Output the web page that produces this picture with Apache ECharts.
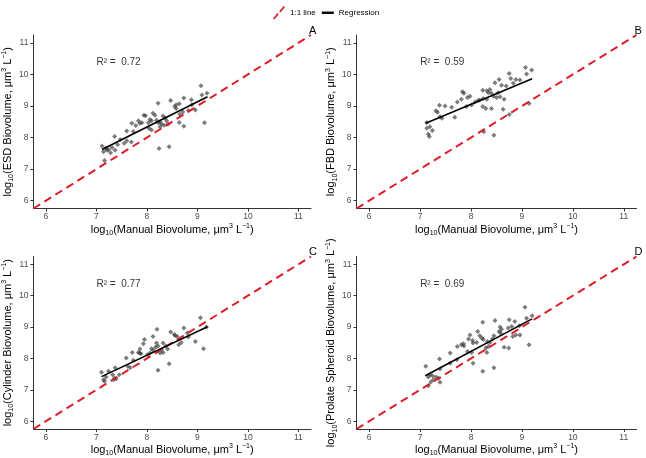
<!DOCTYPE html>
<html>
<head>
<meta charset="utf-8">
<script src="https://cdn.jsdelivr.net/npm/echarts@6/dist/echarts.min.js"></script>
<style>
  html, body { margin: 0; padding: 0; background: #fff; }
  #chart { width: 646px; height: 458px; }
</style>
</head>
<body>
<div id="chart"></div>
<script>
// ---- data (log10 biovolumes) ----
// A: ESD
const esdX = [7.11, 7.14, 7.16, 7.18, 7.21, 7.24, 7.28, 7.31, 7.37, 7.36, 7.42, 7.47, 7.55, 7.60, 7.60, 7.69,
  7.70, 7.73, 7.78, 7.83, 7.86, 7.90, 7.94, 7.97, 8.03, 8.04, 8.06, 8.09, 8.09, 8.12, 8.16, 8.19, 8.22, 8.22,
  8.24, 8.26, 8.26, 8.29, 8.32, 8.34, 8.36, 8.39, 8.42, 8.44, 8.47, 8.55, 8.58, 8.58, 8.64, 8.64, 8.65, 8.71,
  8.73, 8.73, 8.82, 8.88, 8.89, 8.96, 9.07, 9.09, 9.14, 9.19]
const esdY = [7.73, 7.55, 7.27, 7.66, 7.60, 7.62, 7.52, 7.68, 7.60, 8.03, 7.78, 7.94, 7.82, 7.90, 8.21, 7.86,
  8.45, 8.19, 8.38, 8.53, 8.45, 8.47, 8.71, 8.69, 8.47, 8.29, 8.57, 8.53, 8.24, 8.77, 8.71, 8.55, 8.47, 9.09,
  7.65, 8.50, 8.34, 8.43, 8.68, 8.39, 8.62, 8.53, 8.43, 7.71, 9.17, 8.98, 9.04, 8.92, 9.07, 8.48, 8.74, 8.81,
  9.25, 8.36, 8.86, 9.20, 9.04, 8.87, 9.64, 9.35, 8.47, 9.40]

// B: FBD
const fbdX = [7.13, 7.13, 7.16, 7.18, 7.19, 7.24, 7.31, 7.34, 7.38, 7.39, 7.43, 7.49, 7.62, 7.68, 7.73, 7.81,
  7.83, 7.86, 7.91, 7.93, 7.98, 8.01, 8.08, 8.14, 8.17, 8.23, 8.23, 8.24, 8.25, 8.29, 8.31, 8.31, 8.34, 8.37,
  8.40, 8.40, 8.44, 8.45, 8.47, 8.50, 8.53, 8.55, 8.57, 8.60, 8.63, 8.65, 8.69, 8.75, 8.75, 8.78, 8.83, 8.88,
  8.96, 9.07, 9.09, 9.14, 9.19]
const fbdY = [8.48, 8.29, 8.11, 8.03, 8.34, 8.22, 8.85, 8.80, 9.02, 8.66, 8.61, 9.00, 8.96, 8.64, 9.13, 9.21,
  9.45, 9.40, 8.98, 9.27, 9.31, 9.03, 9.13, 9.17, 9.19, 9.50, 8.98, 9.24, 8.18, 8.92, 9.48, 9.21, 9.42, 9.52,
  9.40, 8.92, 9.31, 8.07, 9.74, 9.27, 9.42, 9.84, 9.29, 9.66, 8.90, 9.21, 9.63, 10.03, 8.73, 9.87, 9.72, 9.84,
  9.82, 10.22, 10.01, 9.08, 10.14]

// C: Cylinder
const cylX = [7.10, 7.14, 7.16, 7.19, 7.24, 7.32, 7.34, 7.36, 7.37, 7.39, 7.45, 7.59, 7.62, 7.67, 7.71, 7.73,
  7.83, 7.86, 7.86, 7.88, 7.93, 7.95, 8.01, 8.06, 8.09, 8.12, 8.12, 8.17, 8.19, 8.20, 8.22, 8.22, 8.26, 8.29,
  8.32, 8.32, 8.37, 8.41, 8.44, 8.47, 8.54, 8.56, 8.60, 8.63, 8.68, 8.73, 8.80, 8.82, 8.96, 9.06, 9.12, 9.18]
const cylY = [7.56, 7.32, 7.27, 7.41, 7.59, 7.48, 7.32, 7.38, 7.70, 7.35, 7.48, 8.01, 7.75, 7.70, 8.19, 7.94,
  8.19, 8.17, 8.30, 8.15, 8.47, 8.60, 8.12, 8.17, 8.31, 8.70, 8.26, 8.36, 8.49, 8.93, 8.40, 7.62, 8.17, 8.28,
  8.49, 8.19, 8.40, 8.30, 7.83, 8.84, 8.76, 8.73, 8.70, 8.44, 8.51, 8.97, 8.81, 8.68, 8.54, 9.30, 8.31, 9.00]

// D: Prolate spheroid
const psX = [7.11, 7.16, 7.16, 7.19, 7.21, 7.24, 7.26, 7.31, 7.36, 7.38, 7.39, 7.39, 7.59, 7.59, 7.72, 7.73,
  7.81, 7.85, 7.86, 7.93, 7.95, 7.98, 8.01, 8.03, 8.04, 8.04, 8.11, 8.13, 8.17, 8.21, 8.23, 8.23, 8.24, 8.29,
  8.31, 8.32, 8.34, 8.37, 8.42, 8.45, 8.45, 8.47, 8.55, 8.57, 8.58, 8.60, 8.65, 8.73, 8.74, 8.75, 8.80, 8.82,
  8.86, 8.88, 8.95, 8.96, 9.06, 9.09, 9.14, 9.20]
const psY = [7.75, 7.41, 7.13, 7.48, 7.25, 7.45, 7.32, 7.41, 7.37, 7.98, 7.66, 7.24, 8.17, 7.85, 7.96, 8.38,
  8.44, 8.47, 8.40, 8.22, 8.62, 8.75, 8.19, 8.57, 8.49, 7.85, 8.51, 8.86, 8.72, 8.65, 9.15, 7.59, 8.60, 8.33,
  8.19, 8.54, 8.38, 8.51, 8.62, 8.72, 7.70, 9.21, 8.86, 9.00, 8.81, 8.93, 8.36, 8.97, 8.33, 9.23, 9.02, 8.70,
  9.18, 8.75, 9.04, 8.75, 9.63, 9.28, 8.44, 9.36]

// fitted regression lines (end points)
const esdFitX = [7.11, 9.20], esdFitY = [7.62, 9.29]
const fbdFitX = [7.11, 9.20], fbdFitY = [8.45, 9.86]
const cylFitX = [7.10, 9.20], cylFitY = [7.42, 9.01]
const psFitX = [7.10, 9.20], psFitY = [7.45, 9.26]

const rSquared = ['0.72', '0.59', '0.77', '0.69']
const panelLetters = ['A', 'B', 'C', 'D']
const yMethods = ['ESD', 'FBD', 'Cylinder', 'Prolate Spheroid']
const axisTicks = [6, 7, 8, 9, 10, 11]
const axisRange = [5.75, 11.25]
const labelPos = [7.0, 10.38]

const panels = [
  { x: esdX, y: esdY, fx: esdFitX, fy: esdFitY },
  { x: fbdX, y: fbdY, fx: fbdFitX, fy: fbdFitY },
  { x: cylX, y: cylY, fx: cylFitX, fy: cylFitY },
  { x: psX, y: psY, fx: psFitX, fy: psFitY }
]

// grid boxes in pixels
const boxes = [
  { left: 31, top: 35, width: 280, height: 173.5 },
  { left: 356.5, top: 35, width: 280, height: 173.5 },
  { left: 31, top: 256.5, width: 280, height: 173 },
  { left: 356.5, top: 256.5, width: 280, height: 173 }
]

const zip = (a, b) => a.map((v, i) => [v, b[i]])

const richSubSup = {
  sub: { fontSize: 7, lineHeight: 8, verticalAlign: 'bottom', color: '#000' },
  sup: { fontSize: 7, lineHeight: 8, verticalAlign: 'top', color: '#000' }
}
const xTitle = 'log{sub|10}(Manual Biovolume, μm{sup|3} L{sup|−1})'

const chart = echarts.init(document.getElementById('chart'))

const grid = boxes.map(b => ({ ...b, containLabel: false }))
const xAxis = boxes.map((b, i) => ({
  gridIndex: i,
  type: 'value',
  min: axisRange[0],
  max: axisRange[1],
  name: xTitle,
  nameLocation: 'middle',
  nameGap: 14,
  nameTextStyle: { fontSize: 11, color: '#000', lineHeight: 14, rich: richSubSup },
  axisLine: { show: true, onZero: false, lineStyle: { color: '#333', width: 1 } },
  axisTick: { show: true, length: 3, customValues: axisTicks, lineStyle: { color: '#333' } },
  axisLabel: { customValues: axisTicks, fontSize: 8.5, color: '#4d4d4d', margin: 4 },
  splitLine: { show: false }
}))
const yAxis = boxes.map((b, i) => ({
  gridIndex: i,
  type: 'value',
  min: axisRange[0],
  max: axisRange[1],
  name: 'log{sub|10}(' + yMethods[i] + ' Biovolume, μm{sup|3} L{sup|−1})',
  nameLocation: 'middle',
  nameRotate: 90,
  nameGap: 15,
  nameTextStyle: { fontSize: 11, color: '#000', lineHeight: 14, rich: richSubSup },
  axisLine: { show: true, onZero: false, lineStyle: { color: '#333', width: 1 } },
  axisTick: { show: true, length: 3, customValues: axisTicks, lineStyle: { color: '#333' } },
  axisLabel: { customValues: axisTicks, fontSize: 8.5, color: '#4d4d4d', margin: 5 },
  splitLine: { show: false }
}))

const series = []
panels.forEach((p, i) => {
  series.push({
    name: 'points',
    type: 'scatter',
    xAxisIndex: i, yAxisIndex: i,
    symbol: 'diamond',
    symbolSize: 5,
    itemStyle: { color: 'rgba(50,50,50,0.8)' },
    data: zip(p.x, p.y)
  })
  series.push({
    name: '1:1 line',
    type: 'line',
    xAxisIndex: i, yAxisIndex: i,
    color: '#dc1e28',
    symbol: 'none',
    lineStyle: { color: '#dc1e28', width: 2, type: [8, 5] },
    data: zip(axisRange, axisRange)
  })
  series.push({
    name: 'Regression',
    type: 'line',
    xAxisIndex: i, yAxisIndex: i,
    color: '#000',
    symbol: 'none',
    lineStyle: { color: '#000', width: 1.6 },
    data: zip(p.fx, p.fy)
  })
  series.push({
    name: 'r2',
    type: 'scatter',
    xAxisIndex: i, yAxisIndex: i,
    symbolSize: 0,
    silent: true,
    label: {
      show: true, position: 'right', distance: 0,
      fontSize: 10, color: '#000',
      formatter: 'R² =  ' + rSquared[i]
    },
    data: [labelPos]
  })
})

const titles = boxes.map((b, i) => ({
  text: panelLetters[i],
  left: b.left + b.width - 2,
  top: b.top - 10,
  padding: 0,
  textStyle: { fontSize: 11, fontWeight: 'normal', color: '#000' }
}))

chart.setOption({
  animation: false,
  textStyle: { fontFamily: 'Liberation Sans, Arial, sans-serif' },
  title: titles,
  legend: {
    left: 268,
    top: 1,
    itemWidth: 12,
    itemHeight: 14,
    itemGap: 6,
    textStyle: { fontSize: 8, color: '#000' },
    data: [
      { name: '1:1 line', icon: 'path://M0,14 L5,8 L6.5,9.2 L1.5,15.2 Z M7,6 L12,0 L13.5,1.2 L8.5,7.2 Z' },
      { name: 'Regression', icon: 'path://M0,0 L10,0 L10,2 L0,2 Z' }
    ]
  },
  grid,
  xAxis,
  yAxis,
  series
})
</script>
</body>
</html>
